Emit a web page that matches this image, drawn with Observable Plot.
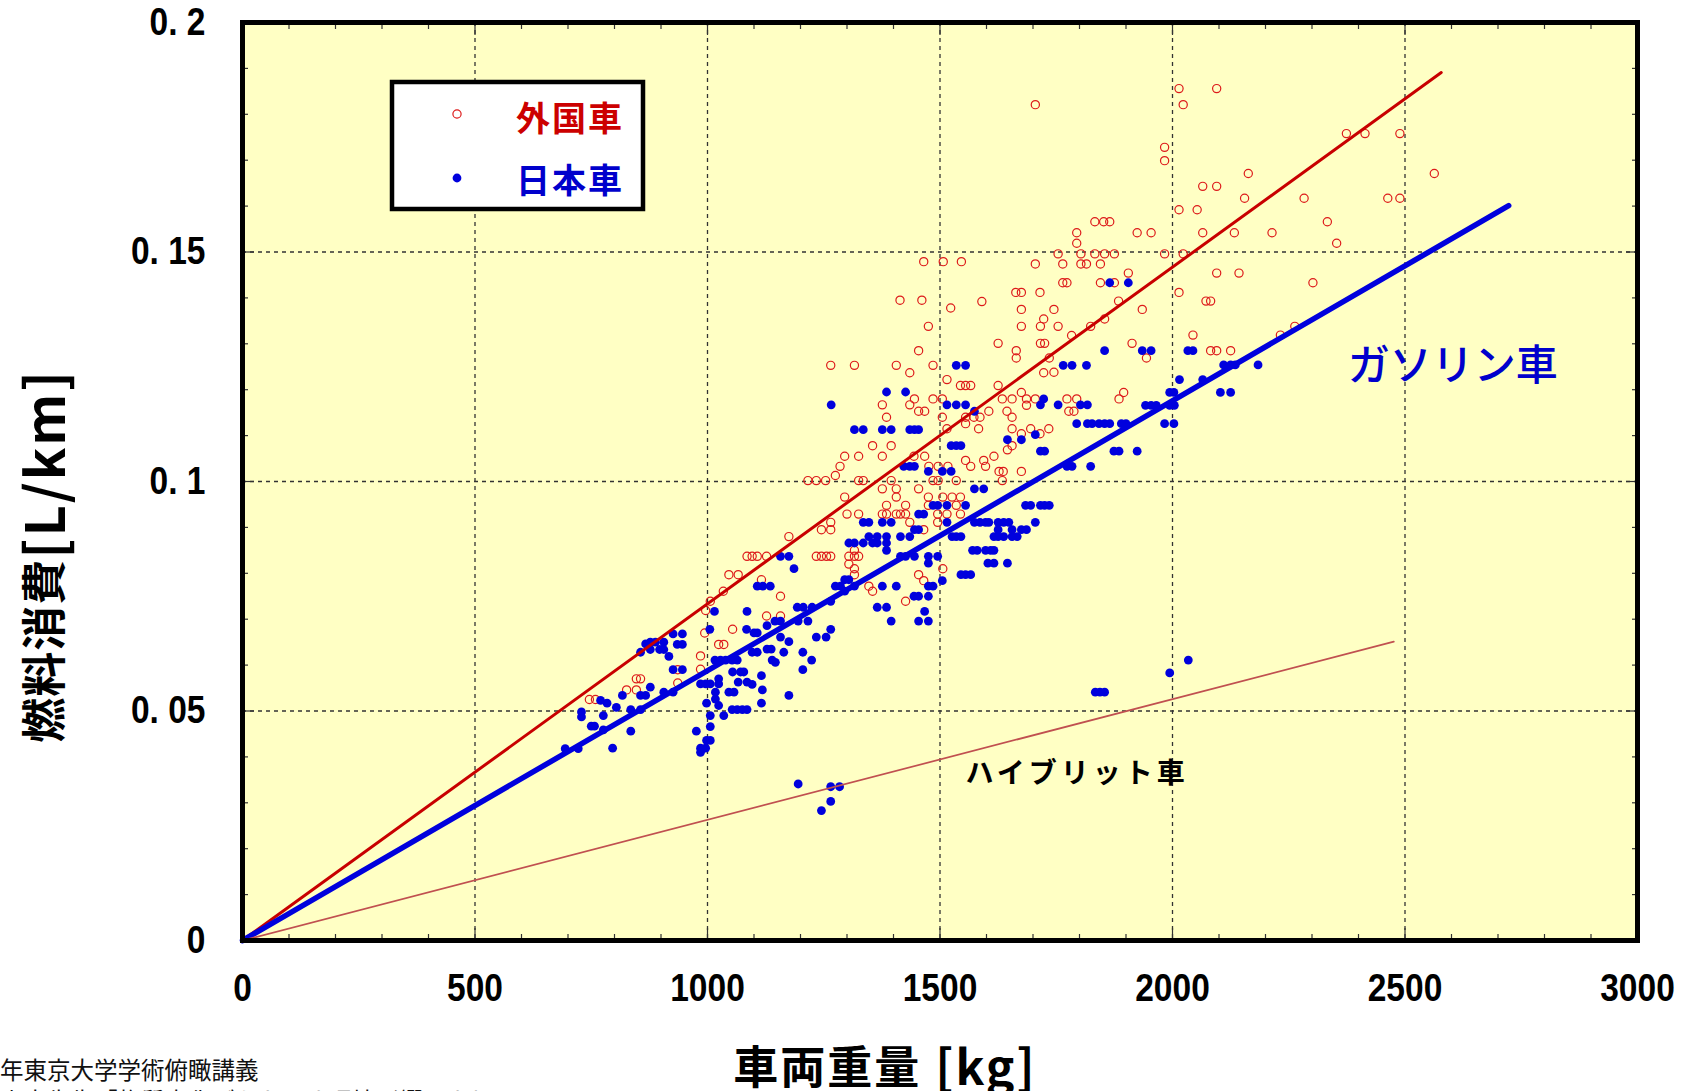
<!DOCTYPE html>
<html><head><meta charset="utf-8">
<script src="https://cdn.jsdelivr.net/npm/d3@7"></script>
<script src="https://cdn.jsdelivr.net/npm/@observablehq/plot@0.6"></script>
<style>
html,body{margin:0;padding:0;background:#fff;}
#chart{position:relative;width:1686px;height:1091px;overflow:hidden;}
</style></head><body><div id="chart"></div>
<script>
// 外国車: [車両重量 kg, 燃料消費 L/km]
const foreignCars = [
[2014,0.1856],[2095,0.1856],[2023,0.1821],[1705,0.1821],[1983,0.1728],[1983,0.1699],[2163,0.1671],[2065,0.1643],[2095,0.1643],[2155,0.1617],[2283,0.1617],[2463,0.1617],[2489,0.1617],[2374,0.1758],[2414,0.1758],[2489,0.1758],[2563,0.1671],[2014,0.1592],[2053,0.1592],[2065,0.1542],[2133,0.1542],[2214,0.1542],[1833,0.1566],[1852,0.1566],[1865,0.1566],[1794,0.1542],[1924,0.1542],[1954,0.1542],[1794,0.1519],[2333,0.1566],[2353,0.1519],
[1754,0.1496],[1803,0.1496],[1833,0.1496],[1854,0.1496],[1875,0.1496],[1983,0.1496],[2023,0.1496],
[1705,0.1474],[1764,0.1474],[1803,0.1474],[1815,0.1474],[1845,0.1474],
[1905,0.1454],[2095,0.1454],[2143,0.1454],[2302,0.1433],
[1764,0.1433],[1773,0.1433],[1845,0.1433],[1875,0.1433],
[1663,0.1412],[1675,0.1412],[1715,0.1412],[2014,0.1412],
[1884,0.1393],[2072,0.1393],[2082,0.1393],
[1675,0.1375],[1745,0.1375],[1935,0.1375],
[1723,0.1354],[1854,0.1354],[1913,0.1301],[2044,0.1319],[1944,0.1269],
[2082,0.1285],[2095,0.1285],[2125,0.1285],[2232,0.1319],[2263,0.1338],
[1745,0.1238],[1885,0.118],[1895,0.1194],[1686,0.1166],
[1645,0.1069],[1655,0.1078],[1675,0.1104],[1715,0.1104],
[1475,0.1338],[1675,0.1338],[1716,0.1338],[1754,0.1338],[1824,0.1338],
[1625,0.1301],[1716,0.1301],[1725,0.1301],[1783,0.1318],
[1454,0.1285],[1664,0.1285],[1664,0.1269],[1735,0.1269],
[1265,0.1253],[1316,0.1253],[1406,0.1253],[1485,0.1253],
[1435,0.1237],[1515,0.1222],[1723,0.1237],
[1544,0.1209],[1555,0.1209],[1566,0.1209],[1625,0.1209],
[1675,0.1194],[1376,0.1167],
[1445,0.118],[1485,0.118],[1505,0.118],
[1634,0.118],[1655,0.118],[1686,0.118],[1705,0.118],[1773,0.118],[1794,0.118],
[1435,0.1167],[1454,0.1153],[1467,0.1153],
[1605,0.1153],[1644,0.1153],[1777,0.1153],[1788,0.1153],
[1385,0.114],
[1505,0.114],[1555,0.114],[1573,0.114],[1586,0.114],[1655,0.114],
[1555,0.1126],
[1515,0.1115],[1583,0.1115],[1655,0.1115],[1695,0.1115],[1734,0.1115],
[1355,0.1078],[1395,0.1078],
[1295,0.1055],[1325,0.1055],[1376,0.1055],
[1285,0.1033],
[1444,0.1055],[1467,0.1055],
[1555,0.1046],[1594,0.1046],[1616,0.1055],
[1476,0.1033],[1496,0.1033],[1517,0.1033],[1566,0.1033],[1598,0.1033],
[1627,0.1022],[1636,0.1022],[1675,0.1022],
[1275,0.1013],
[1216,0.1002],[1234,0.1002],[1254,0.1002],
[1325,0.1002],[1335,0.1002],[1395,0.1002],
[1485,0.1002],[1496,0.1002],[1535,0.1002],[1634,0.1002],
[1376,0.0984],[1406,0.0984],[1454,0.0984],
[1295,0.0966],[1406,0.0966],
[1475,0.0966],[1506,0.0966],[1526,0.0966],[1544,0.0966],
[1385,0.0948],[1426,0.0948],[1475,0.0948],[1535,0.0948],
[1300,0.0929],[1325,0.0929],[1376,0.0929],[1385,0.0929],[1406,0.0929],[1415,0.0929],[1426,0.0929],[1495,0.0929],[1515,0.0929],[1544,0.0929],
[1265,0.0911],[1435,0.0911],[1495,0.0911],
[1245,0.0895],[1265,0.0895],[1465,0.0895],
[1175,0.088],
[1085,0.0837],[1096,0.0837],[1107,0.0837],[1127,0.0837],[1234,0.0837],[1245,0.0837],[1256,0.0837],[1265,0.0837],[1304,0.0837],[1316,0.0837],[1325,0.0837],
[1316,0.085],[1304,0.082],[1316,0.081],[1316,0.0797],
[1046,0.0797],[1066,0.0797],[1116,0.0786],
[1034,0.0761],[1006,0.0739],[996,0.0719],[1157,0.075],
[1347,0.0772],[1355,0.0761],[1506,0.081],[1454,0.0797],[1465,0.0784],[1426,0.0739],
[1127,0.0707],[1157,0.0707],
[994,0.067],[985,0.062],[985,0.0591],[1024,0.0645],[1035,0.0645],[1054,0.0678],
[847,0.057],[856,0.057],[826,0.0546],[847,0.0546],[936,0.059],[936,0.0561],
[746,0.0525],[759,0.0525],
[1465,0.1479],[1507,0.1479],[1546,0.1479],[1414,0.1395],[1461,0.1395],[1523,0.1378],[1590,0.1392]
];

// 日本車: [車両重量 kg, 燃料消費 L/km]
const japaneseCars = [
[1535,0.1253],[1555,0.1253],[1765,0.1253],[1784,0.1253],[1815,0.1253],
[1385,0.1195],[1426,0.1195],[1266,0.1167],
[1515,0.1167],[1535,0.1167],[1555,0.1167],
[1723,0.118],[1716,0.1167],[1754,0.1167],[1802,0.1167],[1817,0.1167],
[1574,0.1153],
[1316,0.1113],[1335,0.1113],[1376,0.1113],[1395,0.1113],[1435,0.1113],[1445,0.1113],[1454,0.1113],
[1794,0.1126],[1817,0.1126],[1827,0.1126],[1842,0.1126],
[1645,0.1091],[1675,0.1091],[1705,0.1102],
[1524,0.1078],[1535,0.1078],[1545,0.1078],
[1716,0.1066],[1725,0.1066],
[1422,0.1033],[1435,0.1033],[1445,0.1033],
[1475,0.1022],[1505,0.1022],[1524,0.1022],
[1773,0.1033],[1784,0.1033],[1824,0.1033],
[1574,0.0984],[1594,0.0984],
[1485,0.0948],[1495,0.0948],[1515,0.0948],[1555,0.0948],
[1684,0.0948],[1695,0.0948],[1716,0.0948],[1725,0.0948],[1735,0.0948],
[1454,0.0929],[1465,0.0929],
[1335,0.0911],[1347,0.0911],[1376,0.0911],[1395,0.0911],[1515,0.0911],
[1574,0.0911],[1586,0.0911],[1598,0.0911],[1605,0.0911],[1625,0.0911],[1637,0.0911],[1648,0.0911],[1705,0.0911],
[1445,0.0895],[1454,0.0895],
[1625,0.0895],[1655,0.0895],[1675,0.0895],[1686,0.0895],
[1347,0.088],[1365,0.088],[1385,0.088],[1415,0.088],[1435,0.088],
[1526,0.088],[1535,0.088],[1545,0.088],
[1616,0.088],[1625,0.088],[1637,0.088],[1655,0.088],[1666,0.088],
[1304,0.0866],[1316,0.0866],[1335,0.0866],[1355,0.0866],[1365,0.0866],[1385,0.0866],
[1385,0.085],
[1570,0.085],[1580,0.085],[1598,0.085],[1609,0.085],[1616,0.085],
[1157,0.0837],[1175,0.0837],
[1415,0.0837],[1426,0.0837],[1445,0.0837],[1475,0.0837],[1495,0.0837],
[1603,0.0822],[1616,0.0822],[1645,0.0822],[1475,0.0822],
[1186,0.081],
[1545,0.0797],[1555,0.0797],[1566,0.0797],[1505,0.0784],
[1295,0.0786],[1304,0.0786],
[1275,0.0772],[1286,0.0772],[1316,0.0772],[1376,0.0772],[1406,0.0772],[1475,0.0772],[1485,0.0772],
[1295,0.0761],
[1107,0.0772],[1119,0.0772],[1135,0.0772],
[1444,0.075],[1454,0.075],[1475,0.075],
[1265,0.0739],
[1193,0.0726],[1206,0.0726],[1225,0.0726],
[1365,0.0726],[1385,0.0726],
[1015,0.0717],[1085,0.0717],[1467,0.0717],
[1854,0.1285],[1935,0.1285],[1954,0.1285],[2033,0.1285],[2044,0.1285],
[2110,0.1254],[2125,0.1254],[2135,0.1254],[2184,0.1254],
[2015,0.1222],[2065,0.1222],
[1994,0.1194],[2003,0.1194],[2103,0.1194],[2125,0.1194],
[1942,0.1166],[1954,0.1166],[1965,0.1166],[1994,0.1166],[2004,0.1166],
[1854,0.1126],[1865,0.1126],[1890,0.1126],[1900,0.1126],[1983,0.1126],[2003,0.1126],
[1874,0.1066],[1885,0.1066],[1924,0.1066],
[1865,0.1433],[1905,0.1433],
[1834,0.0541],[1844,0.0541],[1854,0.0541],[1994,0.0583],[2034,0.0611],
[770,0.0523],[784,0.0517],[804,0.0508],[776,0.049],[776,0.0459],[796,0.0419],
[817,0.0534],[835,0.0503],[835,0.0456],[856,0.0534],[867,0.0534],[856,0.0503],[877,0.0552],
[906,0.0541],[926,0.0541],[856,0.0628],[867,0.0646],[877,0.065],[888,0.065],[906,0.065],
[877,0.0634],[897,0.0634],[906,0.0634],[917,0.0619],
[926,0.0668],[946,0.0668],[935,0.0645],[946,0.0645],[926,0.059],[946,0.059],
[1005,0.0678],
[1016,0.0611],[1028,0.0611],[1039,0.0611],[1053,0.0611],[1064,0.0611],
[1084,0.0678],[1100,0.067],[1107,0.067],[1128,0.0686],
[1096,0.0628],[1107,0.0628],[1128,0.0635],[1137,0.0635],[1139,0.0611],[1146,0.0606],[1164,0.0628],
[1157,0.0661],[1175,0.0651],[1116,0.0577],
[1054,0.0585],[1071,0.0585],[1078,0.0585],
[1024,0.057],[1024,0.0559],
[985,0.0559],[996,0.0559],[1006,0.0559],
[1066,0.0563],[1085,0.0563],[1096,0.0558],[1118,0.0546],
[1046,0.0541],[1057,0.0541],[1017,0.0541],[1017,0.0526],[1024,0.0512],[998,0.0517],
[1053,0.0503],[1064,0.0503],[1075,0.0503],[1085,0.0503],[1116,0.0517],
[1035,0.049],[1006,0.049],[1006,0.0466],[976,0.0456],[998,0.0436],[1006,0.0436],
[985,0.0419],[996,0.0419],[985,0.041],
[1175,0.0534],[1205,0.0628],[1224,0.0611],[1205,0.059],[1234,0.0661],[1255,0.0661],[1265,0.0678],
[1195,0.0341],[1265,0.0335],[1284,0.0335],[1265,0.0303],[1245,0.0283],
[1395,0.0696],[1454,0.0696],[1475,0.0696],[1195,0.0696],[1216,0.0696],[1145,0.0696],[1157,0.0696],
[694,0.0418],[722,0.0418],[729,0.0498],[729,0.0487],[750,0.0467],[757,0.0467]
];

// 回帰直線 (重量 kg, 燃料消費 L/km)
const foreignFit  = [[0,0],[2578,0.1891]];
const gasolineFit = [[0,0],[2723,0.1601]];
const hybridFit   = [[0,0],[2476,0.0651]];

// 目盛
const xTickLabels = [0,500,1000,1500,2000,2500,3000];
const yTickLabels = [0,0.05,0.1,0.15,0.2];
const xGrid = [500,1000,1500,2000,2500];
const yGrid = [0.05,0.1,0.15];
const xMinor = [100,200,300,400,600,700,800,900,1100,1200,1300,1400,1600,1700,1800,1900,2100,2200,2300,2400,2600,2700,2800,2900];
const yMinor = [0.01,0.02,0.03,0.04,0.06,0.07,0.08,0.09,0.11,0.12,0.13,0.14,0.16,0.17,0.18,0.19];

// テキスト
const legendLabels = ["外国車","日本車"];
const xTitleMain = "車両重量";
const xTitleUnit = "[kg]";
const yTitleMain = "燃料消費";
const yTitleUnit = "[L/km]";
const gasolineLabel = "ガソリン車";
const hybridLabel = "ハイブリット車";
const footerLines = ["年東京大学学術俯瞰講義","山本先生「物質文化がもたらす環境影響」より"];

const toRows = a => a.map(([w,f]) => ({w,f}));
const numFont = '"Liberation Sans",Arial,sans-serif';
const jpFont = '"Noto Sans CJK JP","Noto Sans",sans-serif';
const yFmt = d => d === 0 ? "0" : "0. " + String(d).slice(2);

const tickStyle = {stroke:"#333", strokeWidth:1.2, tickFormat:()=>"", label:null};

const chart = Plot.plot({
  width:1686, height:1091,
  marginLeft:242, marginRight:49, marginTop:22, marginBottom:151,
  style:{background:"white", overflow:"hidden"},
  x:{domain:[0,3000]},
  y:{domain:[0,0.2]},
  marks:[
    Plot.frame({fill:"#ffffc4"}),
    Plot.ruleX(xGrid,{stroke:"#333",strokeDasharray:"4,4",strokeWidth:1.3}),
    Plot.ruleY(yGrid,{stroke:"#333",strokeDasharray:"4,4",strokeWidth:1.3}),
    Plot.axisX(xMinor,{anchor:"bottom",tickSize:-6,...tickStyle}),
    Plot.axisX(xMinor,{anchor:"top",tickSize:-6,...tickStyle}),
    Plot.axisY(yMinor,{anchor:"left",tickSize:-6,...tickStyle}),
    Plot.axisY(yMinor,{anchor:"right",tickSize:-6,...tickStyle}),
    Plot.axisX(xGrid,{anchor:"bottom",tickSize:-12,...tickStyle}),
    Plot.axisX(xGrid,{anchor:"top",tickSize:-12,...tickStyle}),
    Plot.axisY(yGrid,{anchor:"left",tickSize:-12,...tickStyle}),
    Plot.axisY(yGrid,{anchor:"right",tickSize:-12,...tickStyle}),
    Plot.axisX(xTickLabels,{anchor:"bottom",tickSize:0,tickPadding:33,tickFormat:d=>String(d),label:null,
      fontSize:39,fontWeight:"bold",fontFamily:numFont,fill:"#000"}),
    Plot.axisY(yTickLabels,{anchor:"left",tickSize:0,tickPadding:37,tickFormat:yFmt,label:null,
      fontSize:39,fontWeight:"bold",fontFamily:numFont,fill:"#000"}),
    Plot.dot(toRows(foreignCars),{x:"w",y:"f",r:4.1,stroke:"#dd1a1a",strokeWidth:1.2,fill:"none"}),
    Plot.dot(toRows(japaneseCars),{x:"w",y:"f",r:4.4,fill:"#0000dd",stroke:"none"}),
    Plot.line(toRows(foreignFit),{x:"w",y:"f",stroke:"#c80000",strokeWidth:3}),
    Plot.line(toRows(gasolineFit),{x:"w",y:"f",stroke:"#0000dd",strokeWidth:5.5,strokeLinecap:"round"}),
    Plot.line(toRows(hybridFit),{x:"w",y:"f",stroke:"#c05050",strokeWidth:1.7}),
    Plot.frame({stroke:"#000",strokeWidth:5})
  ]
});
document.getElementById("chart").appendChild(chart);

const svg = d3.select(chart);
const sx = chart.scale("x"), sy = chart.scale("y");

// condense tick labels horizontally (narrow gothic digits)
function condense(el, k){
  const t = el.getAttribute("transform");
  if (t) el.setAttribute("transform", t + ` scale(${k},1)`);
  else {
    const x = +el.getAttribute("x") || 0, y = +el.getAttribute("y") || 0;
    el.removeAttribute("x"); el.removeAttribute("y");
    el.setAttribute("transform", `translate(${x},${y}) scale(${k},1)`);
  }
}
svg.selectAll('g[aria-label="x-axis tick label"] text, g[aria-label="y-axis tick label"] text')
  .each(function(){ if (this.textContent) condense(this, 0.86); });

// legend
const lg = svg.append("g");
lg.append("rect").attr("x",392).attr("y",82).attr("width",251).attr("height",127)
  .attr("fill","#fff").attr("stroke","#000").attr("stroke-width",4.5);
lg.append("circle").attr("cx",457).attr("cy",114).attr("r",4.1).attr("fill","none").attr("stroke","#dd1a1a").attr("stroke-width",1.2);
lg.append("circle").attr("cx",457).attr("cy",178).attr("r",4.4).attr("fill","#0000dd");
lg.append("text").attr("x",624).attr("y",116).attr("text-anchor","end").attr("dominant-baseline","central")
  .attr("font-family",jpFont).attr("font-weight","bold").attr("font-size",34).attr("letter-spacing",2).attr("fill","#cc0000").text(legendLabels[0]);
lg.append("text").attr("x",624).attr("y",178).attr("text-anchor","end").attr("dominant-baseline","central")
  .attr("font-family",jpFont).attr("font-weight","bold").attr("font-size",34).attr("letter-spacing",2).attr("fill","#0000cc").text(legendLabels[1]);

// annotations
svg.append("text").attr("x",sx.apply(2604)).attr("y",sy.apply(0.1261)).attr("text-anchor","middle").attr("dominant-baseline","central")
  .attr("font-family",jpFont).attr("font-weight",500).attr("font-size",42).attr("fill","#0000cc").text(gasolineLabel);
svg.append("text").attr("x",sx.apply(1796)).attr("y",sy.apply(0.0368)).attr("text-anchor","middle").attr("dominant-baseline","central")
  .attr("font-family",jpFont).attr("font-weight","bold").attr("font-size",28).attr("letter-spacing",4).attr("fill","#000").text(hybridLabel);

// axis titles
const xt = svg.append("text").attr("x",885).attr("y",1064).attr("text-anchor","middle").attr("dominant-baseline","central")
  .attr("font-family",jpFont).attr("font-weight","bold").attr("font-size",45).attr("letter-spacing",2).attr("fill","#000");
xt.append("tspan").text(xTitleMain);
xt.append("tspan").attr("dx",14).attr("font-size",48).text(xTitleUnit);
const yt = svg.append("text").attr("transform","translate(41,556) rotate(-90)").attr("text-anchor","middle").attr("dominant-baseline","central")
  .attr("font-family",jpFont).attr("font-weight","bold").attr("font-size",45).attr("letter-spacing",1).attr("fill","#000");
yt.append("tspan").text(yTitleMain);
yt.append("tspan").attr("font-size",54).attr("letter-spacing",2).text(yTitleUnit);

// footer
svg.append("text").attr("x",0).attr("y",1079).attr("text-anchor","start").attr("font-family",jpFont).attr("font-size",23.5).attr("fill","#111").text(footerLines[0]);
svg.append("text").attr("x",0).attr("y",1110).attr("text-anchor","start").attr("font-family",jpFont).attr("font-size",23.5).attr("fill","#111").text(footerLines[1]);
</script></body></html>
